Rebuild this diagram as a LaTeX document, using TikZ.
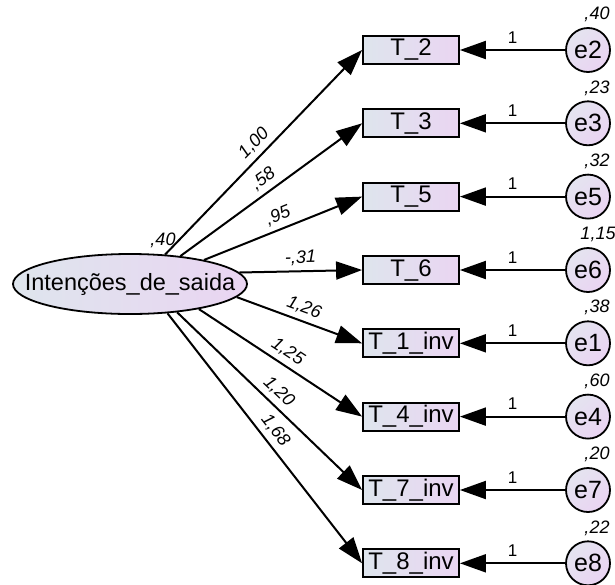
\documentclass[tikz,border=0pt]{standalone}
\usepackage{fontspec}
\setmainfont{Liberation Sans}
\usetikzlibrary{arrows.meta,shapes.geometric}
\definecolor{boxL}{HTML}{DEE5ED}
\definecolor{boxR}{HTML}{EAD5F2}
\definecolor{cirL}{HTML}{E4E4F0}
\definecolor{cirR}{HTML}{EAD4F2}
\begin{document}
\begin{tikzpicture}[x=1pt,y=-1pt,
  obs/.style={draw, line width=1.8pt, minimum width=96pt, minimum height=28pt,
    inner sep=0pt, left color=boxL, right color=boxR,
    font=\fontsize{24}{24}\selectfont},
  errc/.style={circle, draw, line width=1.8pt, minimum size=44pt, inner sep=0pt,
    left color=cirL, right color=cirR, shading angle=45,
    font=\fontsize{25}{25}\selectfont},
  lat/.style={ellipse, draw, line width=1.8pt, minimum width=234pt,
    minimum height=60pt, inner sep=0pt, left color=boxL, right color=boxR},
  arr/.style={line width=2pt, -{Triangle[length=26pt,width=18pt]}},
  coef/.style={midway, sloped, above=4pt, inner sep=1pt,
    font=\fontsize{18}{18}\selectfont\itshape},
  one/.style={midway, above=5pt, inner sep=1pt, font=\fontsize{17}{17}\selectfont},
  varl/.style={inner sep=0pt, font=\fontsize{18}{18}\selectfont\itshape}
]
\useasboundingbox (0,0) rectangle (615,584);

\node[lat, label={[font=\fontsize{23.5}{23.5}\selectfont]center:Intenções\_de\_saida}] (L) at (130,284) {};
\node[varl] (vL) at (163,240) {,40};

\foreach \n/\t/\e/\y in {b2/T\_2/e2/50, b3/T\_3/e3/123.3, b5/T\_5/e5/196.6, b6/T\_6/e6/270,
  b1/T\_1\_inv/e1/343.3, b4/T\_4\_inv/e4/416.6, b7/T\_7\_inv/e7/490, b8/T\_8\_inv/e8/563.3}{
  \node[obs] (\n) at (411,\y) {\t};
  \node[errc] (\e) at (588,\y) {\e};
  \draw[arr] (\e) -- node[one] {1} (\n);
}

\node[varl] at (597,14) {,40};
\node[varl] at (597,88) {,23};
\node[varl] at (597,161) {,32};
\node[varl] at (598,234) {1,15};
\node[varl] at (597,307) {,38};
\node[varl] at (597,381) {,60};
\node[varl] at (597,454) {,20};
\node[varl] at (597,528) {,22};

\draw[arr] (L.40) -- node[coef] {1,00} (b2.west);
\draw[arr] (L.29) -- node[coef] {,58} (b3.west);
\draw[arr] (L.18) -- node[coef] {,95} (b5.west);
\draw[arr] (L.6) -- node[coef] {-,31} (b6.west);
\draw[arr] (L.-7) -- node[coef] {1,26} (b1.west);
\draw[arr] (L.-20) -- node[coef] {1,25} (b4.west);
\draw[arr] (L.-31) -- node[coef] {1,20} (b7.west);
\draw[arr] (L.-38) -- node[coef] {1,68} (b8.west);
\end{tikzpicture}
\end{document}
